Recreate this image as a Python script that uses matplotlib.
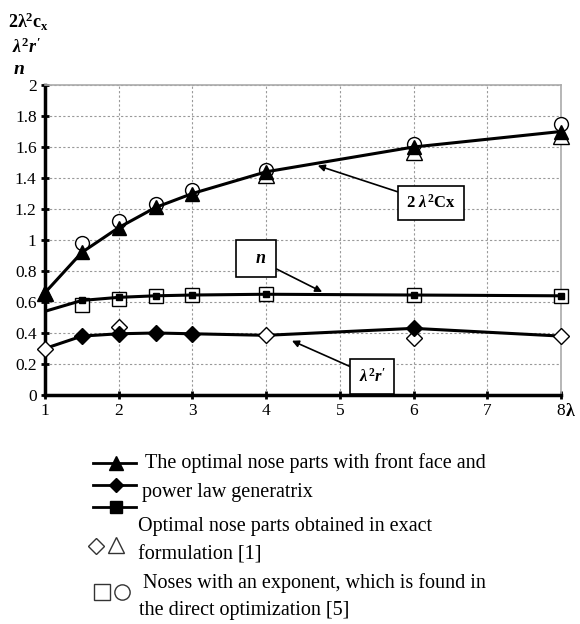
import matplotlib
matplotlib.use("Agg")
import matplotlib.pyplot as plt
from matplotlib.lines import Line2D

plt.rcParams['font.family'] = ['Liberation Serif', 'DejaVu Serif']
plt.rcParams['mathtext.fontset'] = 'custom'
plt.rcParams['mathtext.rm'] = 'Liberation Serif:bold'
plt.rcParams['mathtext.it'] = 'Liberation Serif:bold:italic'
plt.rcParams['mathtext.bf'] = 'Liberation Serif:bold'

# Computed curves (filled markers)
lam = [1, 1.5, 2, 2.5, 3, 4, 6, 8]
cx_line = [0.66, 0.92, 1.08, 1.21, 1.30, 1.44, 1.60, 1.70]
n_line = [0.54, 0.61, 0.63, 0.64, 0.645, 0.65, 0.645, 0.64]
r_line = [0.30, 0.38, 0.395, 0.40, 0.395, 0.385, 0.43, 0.38]
# which points of the curves get filled markers
cx_mark_x = [1, 1.5, 2, 2.5, 3, 4, 6, 8]
cx_mark_y = [0.66, 0.92, 1.08, 1.21, 1.30, 1.44, 1.60, 1.70]
n_mark_x = [1.5, 2, 2.5, 3, 4, 6, 8]
n_mark_y = [0.61, 0.63, 0.64, 0.645, 0.65, 0.645, 0.64]
r_mark_x = [1.5, 2, 2.5, 3, 6]
r_mark_y = [0.38, 0.395, 0.40, 0.395, 0.43]

# Exact formulation [1] (open triangles / diamonds)
tri_x = [1, 4, 6, 8]
tri_y = [0.66, 1.42, 1.57, 1.67]
dia_x = [1, 2, 4, 6, 8]
dia_y = [0.30, 0.44, 0.385, 0.37, 0.38]

# Direct optimization [5] (open circles / squares)
circ_x = [1.5, 2, 2.5, 3, 4, 6, 8]
circ_y = [0.98, 1.12, 1.23, 1.32, 1.45, 1.62, 1.75]
sq_x = [1.5, 2, 2.5, 3, 4, 6, 8]
sq_y = [0.58, 0.62, 0.64, 0.645, 0.65, 0.645, 0.64]

fig = plt.figure(figsize=(5.8, 6.24), dpi=100)
ax = fig.add_axes([45/580, 1-395/624, 516/580, 310/624])

# open markers first
ax.plot(circ_x, circ_y, 'o', ms=10, mfc='white', mec='black', mew=1.0, zorder=3, clip_on=False)
ax.plot(tri_x, tri_y, '^', ms=11, mfc='white', mec='black', mew=1.0, zorder=3, clip_on=False)
ax.plot(sq_x, sq_y, 's', ms=10, mfc='white', mec='black', mew=1.0, zorder=3, clip_on=False)
ax.plot(dia_x, dia_y, 'D', ms=8, mfc='white', mec='black', mew=1.0, zorder=5, clip_on=False)

ax.plot(lam, cx_line, '-', color='black', lw=2.2, zorder=4)
ax.plot(lam, n_line, '-', color='black', lw=2.2, zorder=4)
ax.plot(lam, r_line, '-', color='black', lw=2.2, zorder=4)
ax.plot(cx_mark_x, cx_mark_y, '^', ms=10, color='black', zorder=6, clip_on=False)
ax.plot(n_mark_x, n_mark_y, 's', ms=5, color='black', zorder=6, clip_on=False)
ax.plot(r_mark_x, r_mark_y, 'D', ms=8, color='black', zorder=6, clip_on=False)

ax.set_xlim(1, 8)
ax.set_ylim(0, 2)
ax.set_xticks(range(1, 9))
ax.set_yticks([0, 0.2, 0.4, 0.6, 0.8, 1, 1.2, 1.4, 1.6, 1.8, 2])
ax.set_yticklabels(['0', '0.2', '0.4', '0.6', '0.8', '1', '1.2', '1.4', '1.6', '1.8', '2'])
ax.grid(True, color='#999999', ls=(0, (2, 2)), lw=0.8)
ax.set_axisbelow(True)
for s in ['top', 'right']:
    ax.spines[s].set_color('#aaaaaa')
    ax.spines[s].set_linewidth(1.2)
for s in ['left', 'bottom']:
    ax.spines[s].set_color('black')
    ax.spines[s].set_linewidth(2.5)
ax.tick_params(axis='both', direction='inout', length=6, width=2, labelsize=12.5, colors='black')
ax.tick_params(axis='x', pad=3)
ax.tick_params(axis='y', pad=3)

# annotations
arrow = dict(arrowstyle='-|>', color='black', lw=1.2, shrinkA=0, shrinkB=0, mutation_scale=10)
ax.annotate(r'$2\ \mathit{\lambda}^2$Cx', xy=(4.70, 1.48), xytext=(6.24, 1.24),
            ha='center', va='center', fontsize=12, fontweight='bold',
            bbox=dict(boxstyle='square,pad=0.5', fc='white', ec='black', lw=1.2),
            arrowprops=arrow, zorder=7)
ax.annotate(r'$\ \ \mathit{n}\ \ $', xy=(4.76, 0.665), xytext=(3.86, 0.88),
            ha='center', va='center', fontsize=13,
            bbox=dict(boxstyle='square,pad=0.55', fc='white', ec='black', lw=1.2),
            arrowprops=arrow, zorder=7)
ax.annotate(r"$\mathit{\lambda^2 r'}$", xy=(4.35, 0.35), xytext=(5.44, 0.12),
            ha='center', va='center', fontsize=12,
            bbox=dict(boxstyle='square,pad=0.5', fc='white', ec='black', lw=1.2),
            arrowprops=arrow, zorder=7)

# axis titles
fig.text(8/580, 1-22/624, r'2$\mathrm{\lambda}^2$c$_\mathrm{x}$', fontsize=13, fontweight='bold', va='center')
fig.text(12/580, 1-47/624, r"$\mathit{\lambda^2 r'}$", fontsize=13, va='center')
fig.text(13/580, 1-70/624, r'$\mathit{n}$', fontsize=14, va='center')
fig.text(565/580, 1-411/624, r'$\mathrm{\lambda}$', fontsize=13, va='center')

# legend
def px(x, y):
    return x/580, 1-y/624

def legline(y, marker, ms):
    x0, yy = px(93, y)
    x1, _ = px(136, y)
    fig.add_artist(Line2D([x0, x1], [yy, yy], color='black', lw=2, transform=fig.transFigure))
    xm, _ = px(116, y)
    fig.add_artist(Line2D([xm], [yy], marker=marker, ms=ms, color='black', transform=fig.transFigure))

def sym(x, y, marker, ms):
    xx, yy = px(x, y)
    fig.add_artist(Line2D([xx], [yy], marker=marker, ms=ms, mfc='white', mec='#333333', mew=1.0,
                          ls='none', transform=fig.transFigure))

legline(463, '^', 10)
legline(485, 'D', 7)
legline(507, 's', 8)
sym(96, 546, 'D', 8)
sym(116, 545, '^', 11)
sym(102, 592, 's', 11)
sym(122, 592, 'o', 11)

lfs = 14.5
fig.text(*px(145, 463), 'The optimal nose parts with front face and', fontsize=lfs, va='center')
fig.text(*px(142, 493), 'power law generatrix', fontsize=lfs, va='center')
fig.text(*px(138, 526), 'Optimal nose parts obtained in exact', fontsize=lfs, va='center')
fig.text(*px(138, 555), 'formulation [1]', fontsize=lfs, va='center')
fig.text(*px(143, 583), 'Noses with an exponent, which is found in', fontsize=lfs, va='center')
fig.text(*px(139, 610), 'the direct optimization [5]', fontsize=lfs, va='center')

fig.savefig('out.png', dpi=100)
